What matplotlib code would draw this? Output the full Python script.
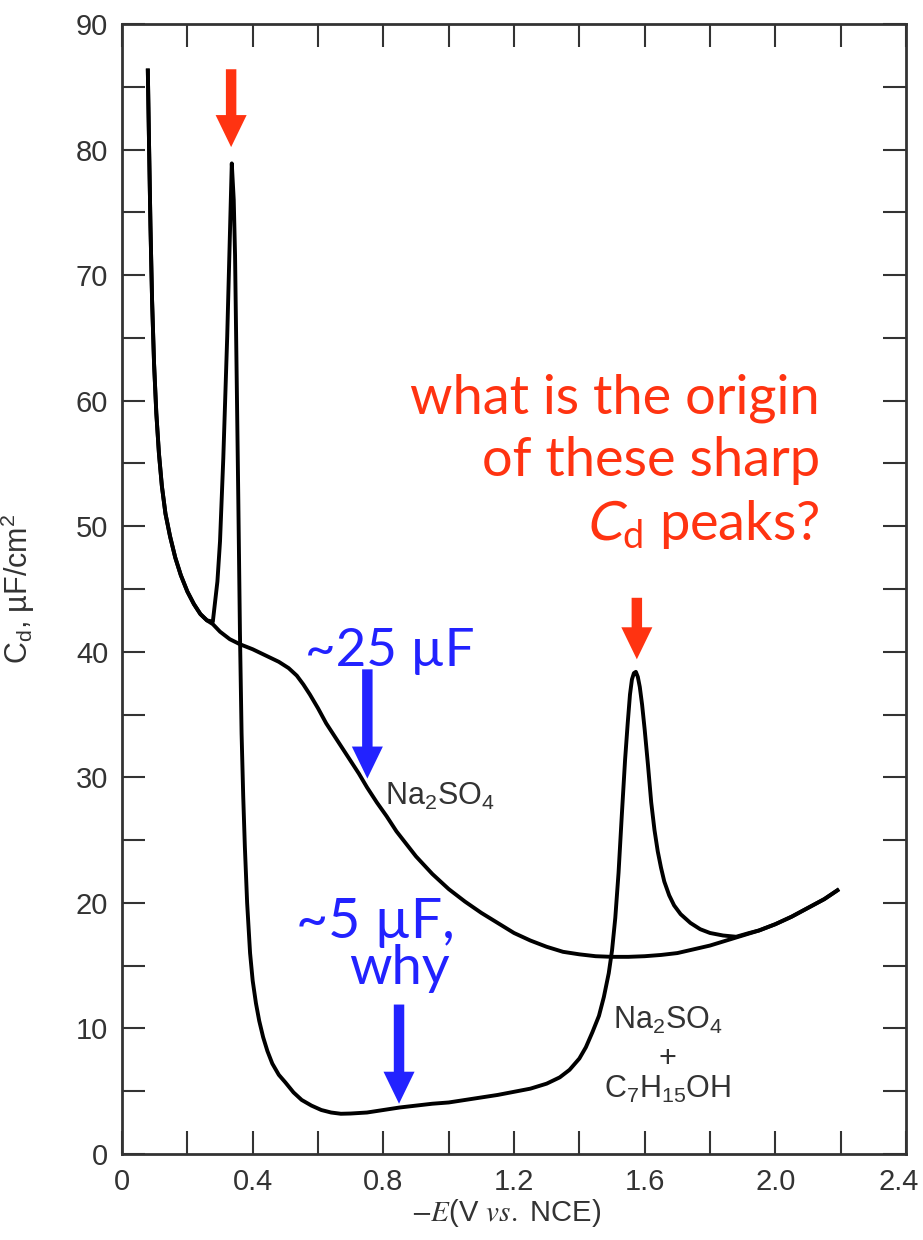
import numpy as np
import matplotlib
matplotlib.use("Agg")
import matplotlib.pyplot as plt
import matplotlib.transforms as mtransforms
from matplotlib import font_manager as fm
from matplotlib.textpath import TextPath
from matplotlib.patches import PathPatch
from matplotlib.ticker import MultipleLocator

plt.rcParams['font.family'] = ['Liberation Sans', 'DejaVu Sans']

# Na2SO4 alone
e_base = [0.079, 0.083, 0.087, 0.092, 0.098, 0.105, 0.113, 0.122, 0.133, 0.147,
          0.163, 0.18, 0.20, 0.22, 0.24, 0.26, 0.278, 0.30, 0.33, 0.361,
          0.40, 0.44, 0.48, 0.51, 0.535, 0.555, 0.575, 0.60, 0.625, 0.65,
          0.675, 0.70, 0.725, 0.75, 0.78, 0.81, 0.84, 0.87, 0.90, 0.95,
          1.00, 1.05, 1.10, 1.15, 1.20, 1.25, 1.30, 1.35, 1.40, 1.45,
          1.50, 1.55, 1.60, 1.65, 1.70, 1.75, 1.80, 1.85, 1.90, 1.95,
          2.00, 2.05, 2.10, 2.15, 2.19]
cd_base = [86.3, 80.0, 74.0, 68.0, 63.0, 59.0, 55.8, 53.2, 51.0, 49.2,
           47.5, 46.1, 44.8, 43.8, 43.0, 42.5, 42.2, 41.6, 41.0, 40.6,
           40.2, 39.7, 39.2, 38.7, 38.1, 37.4, 36.6, 35.5, 34.3, 33.3,
           32.3, 31.3, 30.3, 29.2, 28.0, 26.9, 25.7, 24.7, 23.7, 22.3,
           21.1, 20.1, 19.2, 18.4, 17.6, 17.0, 16.5, 16.1, 15.9, 15.75,
           15.7, 15.7, 15.75, 15.85, 16.0, 16.3, 16.6, 17.0, 17.4, 17.8,
           18.3, 18.9, 19.6, 20.3, 21.0]

# Na2SO4 + heptanol
e_alc = [0.079, 0.083, 0.087, 0.092, 0.098, 0.105, 0.113, 0.122, 0.133, 0.147,
         0.163, 0.18, 0.20, 0.22, 0.24, 0.26, 0.278, 0.285, 0.292, 0.30,
         0.31, 0.322, 0.329, 0.336, 0.342, 0.346, 0.351, 0.356, 0.361, 0.366,
         0.371, 0.376, 0.383, 0.392, 0.40, 0.41, 0.42, 0.432, 0.445, 0.46,
         0.48, 0.50, 0.525, 0.55, 0.58, 0.61, 0.64, 0.67, 0.70, 0.75,
         0.80, 0.85, 0.90, 0.95, 1.00, 1.05, 1.10, 1.15, 1.20, 1.25,
         1.30, 1.34, 1.37, 1.40, 1.42, 1.44, 1.46, 1.475, 1.49, 1.50,
         1.51, 1.52, 1.53, 1.54, 1.548, 1.555, 1.561, 1.567, 1.573, 1.579,
         1.585, 1.592, 1.60, 1.61, 1.62, 1.63, 1.64, 1.65, 1.66, 1.675,
         1.69, 1.71, 1.74, 1.77, 1.80, 1.84, 1.88, 1.92, 1.95, 2.00,
         2.05, 2.10, 2.15, 2.19]
cd_alc = [86.3, 80.0, 74.0, 68.0, 63.0, 59.0, 55.8, 53.2, 51.0, 49.2,
          47.5, 46.1, 44.8, 43.8, 43.0, 42.5, 42.4, 44.0, 45.6, 48.8,
          55.4, 65.1, 72.0, 78.9, 76.0, 71.6, 61.9, 52.1, 41.5, 33.5,
          28.5, 24.5, 20.0, 16.0, 13.8, 12.0, 10.6, 9.3, 8.2, 7.2,
          6.3, 5.7, 4.9, 4.3, 3.85, 3.5, 3.3, 3.2, 3.22, 3.3,
          3.5, 3.7, 3.85, 4.0, 4.1, 4.3, 4.5, 4.7, 4.95, 5.2,
          5.6, 6.1, 6.7, 7.6, 8.5, 9.7, 11.0, 12.5, 14.4, 16.2,
          18.8, 22.4, 27.0, 31.4, 34.3, 36.6, 37.8, 38.3, 38.4, 38.0,
          37.2, 35.8, 33.8, 31.0, 28.0, 25.8, 24.1, 22.8, 21.7, 20.6,
          19.8, 19.1, 18.4, 17.9, 17.6, 17.4, 17.3, 17.6, 17.8, 18.3,
          18.9, 19.6, 20.3, 21.0]

xtick_vals = [0, 0.4, 0.8, 1.2, 1.6, 2.0, 2.4]
xtick_text = ['0', '0.4', '0.8', '1.2', '1.6', '2.0', '2.4']

red = '#FF3311'
blue = '#2222FF'
axcol = '#333333'

fig = plt.figure(figsize=(9.23, 12.40), dpi=100)
ax = fig.add_axes([0.1322, 0.0694, 0.8494, 0.9112])

ax.plot(e_base, cd_base, color='black', lw=2.8, solid_joinstyle='round')
ax.plot(e_alc, cd_alc, color='black', lw=2.8, solid_joinstyle='round')

ax.set_xlim(0, 2.4)
ax.set_ylim(0, 90)
ax.xaxis.set_minor_locator(MultipleLocator(0.2))
ax.yaxis.set_major_locator(MultipleLocator(10))
ax.yaxis.set_minor_locator(MultipleLocator(5))
ax.set_xticks(xtick_vals)
ax.set_xticklabels(xtick_text)
ax.tick_params(which='both', direction='in', top=True, right=True,
               length=16.5, width=1.5, color=axcol)
ax.tick_params(axis='x', which='major', pad=10, labelsize=21, labelcolor=axcol)
ax.tick_params(axis='y', which='major', pad=10, labelsize=21, labelcolor=axcol)
for s in ax.spines.values():
    s.set_linewidth(2.0)
    s.set_color(axcol)

# keep the last x label inside the figure
last = ax.get_xticklabels()[-1]
last.set_transform(last.get_transform() +
                   mtransforms.ScaledTranslation(-5 / 72, 0, fig.dpi_scale_trans))

ax.set_ylabel(r'C$_\mathregular{d}$, µF/cm$^\mathregular{2}$', fontsize=22, color=axcol)
ax.yaxis.set_label_coords(-0.108, 0.5)
xl = ax.set_xlabel(r'$-E$(V $vs.$ NCE)', fontsize=21, color=axcol)
xl.set_math_fontfamily('stix')
ax.xaxis.set_label_coords(0.49, -0.038)

# curve labels
ax.text(0.805, 27.8, r'Na$_\mathregular{2}$SO$_\mathregular{4}$', fontsize=22,
        color=axcol, va='baseline')
ax.text(1.671, 10.0, r'Na$_\mathregular{2}$SO$_\mathregular{4}$', fontsize=22,
        color=axcol, ha='center', va='baseline')
ax.text(1.671, 6.9, '+', fontsize=22, color=axcol, ha='center', va='baseline')
ax.text(1.671, 4.5, r'C$_\mathregular{7}$H$_\mathregular{15}$OH', fontsize=22,
        color=axcol, ha='center', va='baseline')

# arrows
arr = dict(width=0.032, head_width=0.095, head_length=2.55,
           length_includes_head=True, lw=0)
ax.arrow(0.334, 86.4, 0, 80.2 - 86.4, color=red, **arr)
ax.arrow(1.576, 44.3, 0, 39.4 - 44.3, color=red, **arr)
ax.arrow(0.751, 38.6, 0, 29.9 - 38.6, color=blue, **arr)
ax.arrow(0.848, 11.9, 0, 4.0 - 11.9, color=blue, **arr)

# annotations
afont = ['Lato', 'DejaVu Sans']
for txt, yy in [('what is the origin', 59.0), ('of these sharp', 54.0)]:
    ax.text(2.137, yy, txt, fontsize=39, color=red, ha='right', va='baseline',
            family=afont)
rest = ax.text(2.137, 48.9, r'$_\mathregular{d}$ peaks?', fontsize=39, color=red,
               ha='right', va='baseline', family=afont)

ax.text(0.82, 38.9, '~25 µF', fontsize=38, color=blue, ha='center',
        va='baseline', family=afont)
ax.text(1.019, 17.2, '~5 µF,', fontsize=40, color=blue, ha='right',
        va='baseline', family=afont)
ax.text(1.004, 13.5, 'why', fontsize=39, color=blue, ha='right',
        va='baseline', family=afont)

# slanted C in front of the subscript d
fig.canvas.draw()
bb = rest.get_window_extent()
base_y = ax.transData.transform((2.137, 48.9))[1]
cpath = TextPath((0, 0), 'C', size=39 * fig.dpi / 72,
                 prop=fm.FontProperties(family='Lato'))
cw = cpath.get_extents().x1
ctr = mtransforms.Affine2D().skew_deg(12, 0).translate(bb.x0 - cw - 2, base_y)
fig.add_artist(PathPatch(cpath, transform=ctr, facecolor=red, lw=0))

fig.savefig('out.png', dpi=100)
